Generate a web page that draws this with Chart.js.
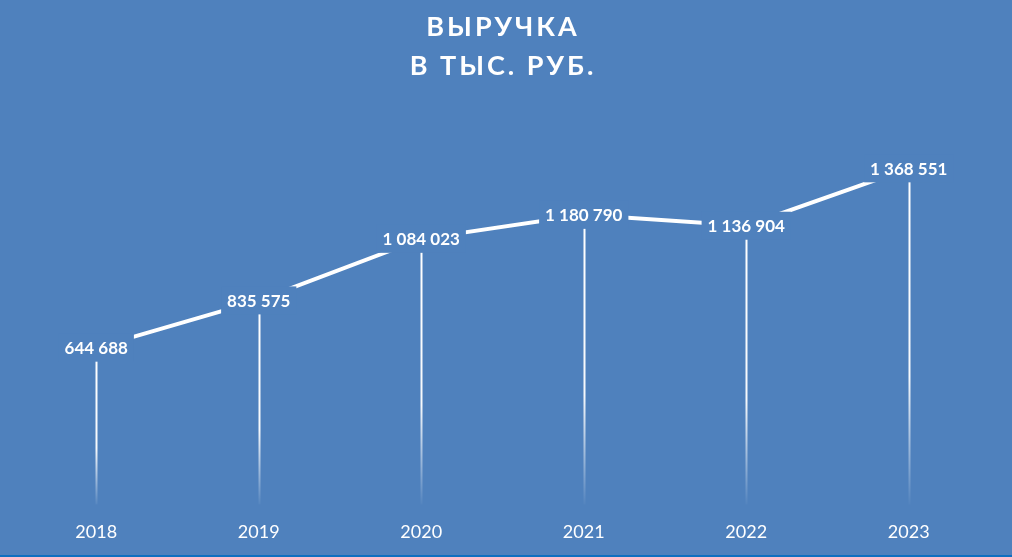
<!DOCTYPE html>
<html>
<head>
<meta charset="utf-8">
<script src="https://cdn.jsdelivr.net/npm/chart.js@4.4.1/dist/chart.umd.min.js"></script>
<style>
  html, body { margin: 0; padding: 0; background: #4f81bd; }
  #wrap { width: 1012px; height: 557px; position: relative; }
</style>
</head>
<body>
<div id="wrap"><canvas id="revenueChart" width="1012" height="557"></canvas></div>
<script>
// data
const years = ['2018', '2019', '2020', '2021', '2022', '2023'];
const revenue = [644688, 835575, 1084023, 1180790, 1136904, 1368551];
const titleLines = ['ВЫРУЧКА', 'В ТЫС. РУБ.'];

const bgColor = '#4f81bd';

function fmt(v) {
    return String(v).replace(/\B(?=(\d{3})+(?!\d))/g, ' ');
}

// title with letter spacing, bottom border line
const decorPlugin = {
    id: 'decor',
    beforeDraw(chart) {
        const ctx = chart.ctx;
        ctx.save();
        ctx.fillStyle = bgColor;
        ctx.fillRect(0, 0, chart.width, chart.height);
        ctx.fillStyle = '#0f6fc0';
        ctx.fillRect(0, chart.height - 2, chart.width, 2);
        ctx.fillStyle = '#ffffff';
        ctx.font = 'bold 27px Lato';
        ctx.textAlign = 'center';
        ctx.textBaseline = 'middle';
        ctx.letterSpacing = '3px';
        ctx.fillText(titleLines[0], 503, 27);
        ctx.fillText(titleLines[1], 503, 66);
        ctx.restore();
    },
    beforeDatasetsDraw(chart) {
        // drop lines from each point down to the axis
        const ctx = chart.ctx;
        const meta = chart.getDatasetMeta(0);
        const y0 = chart.scales.y.getPixelForValue(0);
        ctx.save();
        meta.data.forEach(pt => {
            const top = pt.y + 12;
            const g = ctx.createLinearGradient(0, top, 0, y0);
            g.addColorStop(0, 'rgba(255,255,255,1)');
            g.addColorStop(0.6, 'rgba(255,255,255,0.95)');
            g.addColorStop(1, 'rgba(255,255,255,0)');
            ctx.strokeStyle = g;
            ctx.lineWidth = 2;
            ctx.beginPath();
            ctx.moveTo(Math.round(pt.x) + 0.5, top);
            ctx.lineTo(Math.round(pt.x) + 0.5, y0 - 3);
            ctx.stroke();
        });
        ctx.restore();
    },
    afterDatasetsDraw(chart) {
        // value labels on a background box, covering the line
        const ctx = chart.ctx;
        const meta = chart.getDatasetMeta(0);
        ctx.save();
        ctx.font = 'bold 17px Lato';
        ctx.textAlign = 'center';
        ctx.textBaseline = 'middle';
        meta.data.forEach((pt, i) => {
            const txt = fmt(revenue[i]);
            const w = ctx.measureText(txt).width;
            ctx.fillStyle = bgColor;
            ctx.fillRect(pt.x - w / 2 - 6, pt.y - 14, w + 12, 28);
            ctx.fillStyle = '#ffffff';
            ctx.fillText(txt, pt.x, pt.y + 1);
        });
        ctx.restore();
    }
};

new Chart(document.getElementById('revenueChart'), {
    type: 'line',
    data: {
        labels: years,
        datasets: [{
            data: revenue,
            borderColor: '#ffffff',
            borderWidth: 4,
            pointRadius: 0,
            tension: 0,
            fill: false
        }]
    },
    options: {
        responsive: false,
        animation: false,
        layout: { padding: { top: 111, left: 15, right: 22, bottom: 0 } },
        plugins: {
            legend: { display: false },
            tooltip: { enabled: false }
        },
        scales: {
            x: {
                offset: true,
                grid: { display: false, drawTicks: false },
                border: { display: false },
                ticks: {
                    color: '#ffffff',
                    padding: 14,
                    font: { family: 'Lato', size: 18 }
                }
            },
            y: {
                display: false,
                min: 0,
                max: 1600000
            }
        }
    },
    plugins: [decorPlugin]
});
</script>
</body>
</html>
